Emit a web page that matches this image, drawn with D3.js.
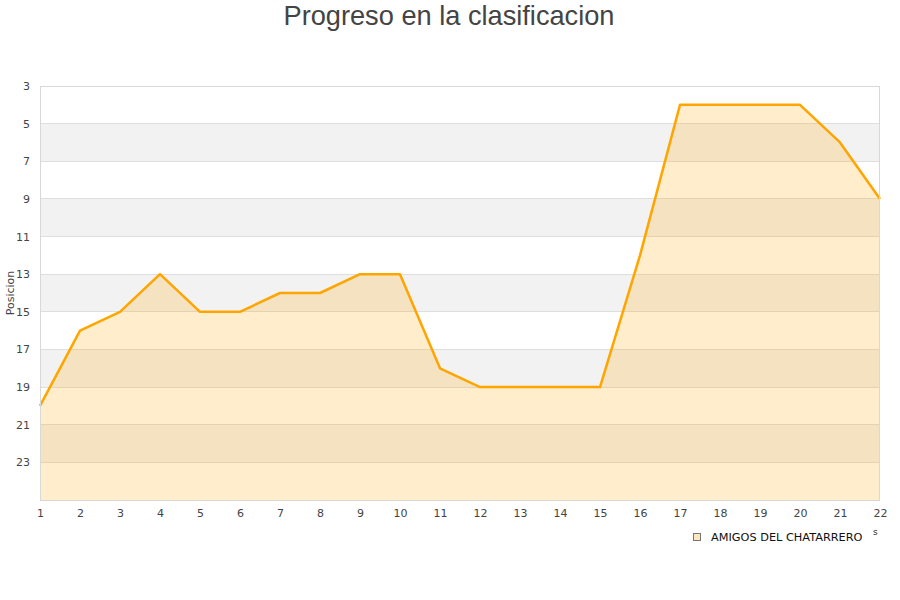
<!DOCTYPE html>
<html><head><meta charset="utf-8">
<script src="https://cdn.jsdelivr.net/npm/d3@7"></script>
<style>body{margin:0;background:#fff}svg{display:block}</style>
</head><body>
<svg id="chart" width="900" height="600"></svg>
<script>
const jornadas = [1,2,3,4,5,6,7,8,9,10,11,12,13,14,15,16,17,18,19,20,21,22];
const posiciones = [20,16,15,13,15,15,14,14,13,13,18,19,19,19,19,12,4,4,4,4,6,9];
const yTicks = [3,5,7,9,11,13,15,17,19,21,23];
const bands = [[5,7],[9,11],[13,15],[17,19],[21,23]];
const seriesName = "AMIGOS DEL CHATARRERO";
const title = "Progreso en la clasificacion";
const yLabel = "Posicion";

const svg = d3.select("#chart");
const L = 40, R = 880, T = 86, B = 500;
const x = d3.scaleLinear().domain([1,22]).range([L,R]);
const y = d3.scaleLinear().domain([3,25]).range([T,B]);
const font = "'DejaVu Sans', sans-serif";

svg.append("text").attr("x",449).attr("y",25).attr("text-anchor","middle")
  .attr("font-family","'Liberation Sans', Arial, sans-serif").attr("font-size",27.2)
  .attr("fill","#444").text(title);

svg.selectAll("rect.band").data(bands).join("rect").attr("class","band")
  .attr("x",L).attr("width",R-L).attr("y",d=>y(d[0])).attr("height",d=>y(d[1])-y(d[0]))
  .attr("fill","#f2f2f2");
svg.selectAll("line.grid").data(yTicks).join("line").attr("class","grid")
  .attr("x1",L).attr("x2",R).attr("y1",d=>y(d)).attr("y2",d=>y(d))
  .attr("stroke","#dedede").attr("stroke-width",1).attr("shape-rendering","crispEdges");

const data = jornadas.map((j,i)=>({j, p: posiciones[i]}));
const curve = d3.curveLinear;
const area = d3.area().x(d=>x(d.j)).y0(B).y1(d=>y(d.p)).curve(curve);
const line = d3.line().x(d=>x(d.j)).y(d=>y(d.p)).curve(curve);
svg.append("path").datum(data).attr("d",area).attr("fill","#ffa500").attr("fill-opacity",0.2);
svg.append("path").datum(data).attr("d",line).attr("fill","none").attr("stroke","#ffa500")
  .attr("stroke-width",2.5).attr("stroke-linejoin","round");

svg.append("rect").attr("x",L+0.5).attr("y",T+0.5).attr("width",R-L-1).attr("height",B-T)
  .attr("fill","none").attr("stroke","#d8d8d8").attr("shape-rendering","crispEdges");

const yAxis = d3.axisLeft(y).tickValues(yTicks).tickSize(0).tickPadding(10);
const gy = svg.append("g").attr("transform",`translate(${L},0)`).call(yAxis);
gy.select(".domain").remove();
gy.selectAll("text").attr("font-family",font).attr("font-size",11).attr("fill","#444");

const xAxis = d3.axisBottom(x).tickValues(jornadas).tickFormat(d3.format("d")).tickSize(0).tickPadding(9);
const gx = svg.append("g").attr("transform",`translate(0,${B})`).call(xAxis);
gx.select(".domain").remove();
gx.selectAll("text").attr("font-family",font).attr("font-size",11).attr("fill","#444");

svg.append("text").attr("transform","translate(14,293) rotate(-90)").attr("text-anchor","middle")
  .attr("font-family",font).attr("font-size",11).attr("fill","#444").text(yLabel);

svg.append("rect").attr("x",693.5).attr("y",533.5).attr("width",7).attr("height",7)
  .attr("fill","#fde6c0").attr("stroke","#777").attr("stroke-width",1);
svg.append("text").attr("x",711).attr("y",541).attr("font-family",font).attr("font-size",11.3)
  .attr("fill","#111").text(seriesName);
svg.append("text").attr("x",873).attr("y",535).attr("font-family",font).attr("font-size",9)
  .attr("fill","#333").text("s");
</script>
</body></html>
